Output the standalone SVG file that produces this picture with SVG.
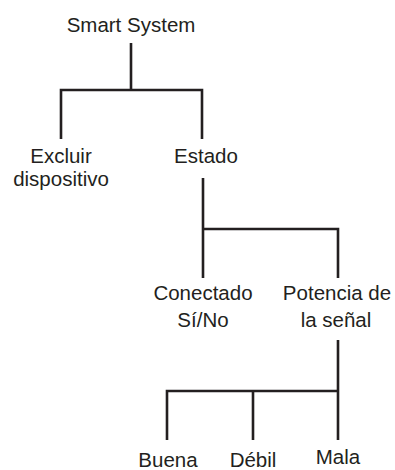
<svg xmlns="http://www.w3.org/2000/svg" width="395" height="470" viewBox="0 0 395 470">
<style>
text{font-family:"Liberation Sans",Arial,sans-serif;font-size:20.5px;fill:#231f20;text-anchor:middle}
.c path{stroke:#231f20;stroke-width:2.6;fill:none;stroke-linecap:butt}
</style>
<rect width="395" height="470" fill="#fff"/>
<g class="c" id="connectors">
<path d="M131 43V90M61 90H202M61 88.7V139M202 88.7V139"/>
<path d="M203 178V229M203 229H338M203 227.7V278M338 227.7V278"/>
<path d="M338 340V440M167 391H338M167 389.7V440M253 391V440"/>
</g>
<g id="n-root"><text x="131" y="32">Smart System</text></g>
<g id="n-excluir"><text x="61" y="163">Excluir</text><text x="61" y="186">dispositivo</text></g>
<g id="n-estado"><text x="206" y="163">Estado</text></g>
<g id="n-conectado"><text x="203" y="300">Conectado</text><text x="203" y="327">Sí/No</text></g>
<g id="n-potencia"><text x="337" y="300">Potencia de</text><text x="336" y="327">la señal</text></g>
<g id="n-buena"><text x="168" y="467">Buena</text></g>
<g id="n-debil"><text x="253" y="467">Débil</text></g>
<g id="n-mala"><text x="338" y="464">Mala</text></g>
</svg>
